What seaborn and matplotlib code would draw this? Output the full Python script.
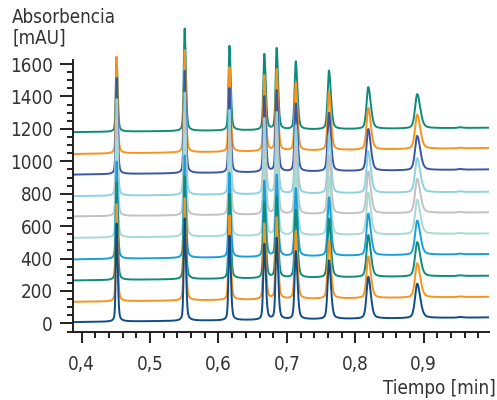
import numpy as np
import pandas as pd
import matplotlib
matplotlib.use("Agg")
import matplotlib.pyplot as plt
import seaborn as sns
from matplotlib.ticker import FixedLocator, FuncFormatter

# peaks of the chromatogram (retention time in min, height in mAU, FWHM in min)
peak_times = [0.451, 0.5505, 0.616, 0.667, 0.685, 0.713, 0.7615, 0.819, 0.8905, 0.953]
peak_heights = [600, 632, 522, 468, 502, 420, 362, 258, 212, 4]
peak_fwhm = [0.0032, 0.0036, 0.0038, 0.0042, 0.0042, 0.0048, 0.0056, 0.0072, 0.0088, 0.008]

# stacked runs, bottom to top
trace_names = ["run01", "run02", "run03", "run04", "run05",
               "run06", "run07", "run08", "run09", "run10"]
trace_colors = ["#0f4c8a", "#f7941d", "#0e8c7a", "#1a9fdc", "#a6dad3",
                "#c2c2c2", "#8dd2e2", "#3c56a5", "#f7941d", "#0e8c7a"]
baseline_start = [8, 133, 265, 395, 528, 660, 785, 918, 1045, 1180]
baseline_end = [37, 164, 294, 428, 555, 685, 812, 950, 1082, 1207]
first_peak = [605, 600, 600, 600, 598, 598, 596, 594, 595, 460]

t_start, t_end = 0.3873, 0.9955


def peak(t, t0, h, fwhm):
    dt = t - t0
    hw = np.where(dt < 0, fwhm * 0.42, fwhm * 0.6)
    g = np.exp(-np.log(2) * (dt / hw) ** 2)
    lor = 1.0 / (1.0 + (dt / hw) ** 2)
    return h * (0.62 * g + 0.38 * lor)


t = np.linspace(t_start, t_end, 7000)
frames = []
for i, name in enumerate(trace_names):
    y = np.interp(t, [t_start, t_end], [baseline_start[i], baseline_end[i]])
    for k, t0 in enumerate(peak_times):
        h = first_peak[i] if k == 0 else peak_heights[k]
        y = y + peak(t, t0, h, peak_fwhm[k])
    frames.append(pd.DataFrame({"t": t, "signal": y, "trace": name}))
df = pd.concat(frames, ignore_index=True)

sns.set_style("ticks")
plt.rcParams["font.family"] = ["DejaVu Sans"]
plt.rcParams["font.stretch"] = "condensed"
ink = "#231f20"
txt = "#333333"

fig = plt.figure(figsize=(4.97, 4.0), dpi=100)
ax = fig.add_axes([73 / 497, 0.169, (489 - 73) / 497, 0.9375 - 0.169])

# lower runs drawn last so they sit on top
sns.lineplot(data=df, x="t", y="signal", hue="trace",
             hue_order=trace_names[::-1],
             palette=dict(zip(trace_names, trace_colors)),
             estimator=None, sort=False, legend=False, lw=1.4, ax=ax)

ax.set_xlim(t_start, t_end)
ax.set_ylim(-55.5, 1841)
ax.spines["top"].set_visible(False)
ax.spines["right"].set_visible(False)
ax.spines["left"].set_bounds(-55.5, 1625)
for s in ("left", "bottom"):
    ax.spines[s].set_color(ink)
    ax.spines[s].set_linewidth(1.4)

ax.xaxis.set_major_locator(FixedLocator([0.4, 0.5, 0.6, 0.7, 0.8, 0.9]))
ax.xaxis.set_minor_locator(FixedLocator(np.arange(0.40, 0.99, 0.02)))
ax.yaxis.set_major_locator(FixedLocator(np.arange(0, 1601, 200)))
ax.yaxis.set_minor_locator(FixedLocator(np.arange(-50, 1601, 50)))
ax.xaxis.set_major_formatter(FuncFormatter(lambda v, p: f"{v:.1f}".replace(".", ",")))
ax.yaxis.set_major_formatter(FuncFormatter(lambda v, p: f"{v:.0f}"))

ax.tick_params(axis="x", which="major", length=8, width=1.4, color=ink,
               labelsize=13.5, labelcolor=txt, pad=8)
ax.tick_params(axis="y", which="major", length=9.5, width=1.4, color=ink,
               labelsize=13.5, labelcolor=txt, pad=5)
ax.tick_params(which="minor", length=4.5, width=1.4, color=ink)
ax.set_xlabel("")
ax.set_ylabel("")

fig.text(12 / 497, 1 - 23 / 400, "Absorbencia", fontsize=13.5, color=txt,
         ha="left", va="baseline")
fig.text(12 / 497, 1 - 43.5 / 400, "[mAU]", fontsize=13.5, color=txt,
         ha="left", va="baseline")
fig.text(496 / 497, 1 - 394 / 400, "Tiempo [min]", fontsize=13.5, color=txt,
         ha="right", va="baseline")

fig.savefig("out.png", dpi=100)
